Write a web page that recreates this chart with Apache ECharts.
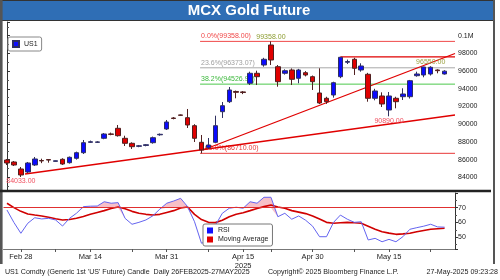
<!DOCTYPE html>
<html><head><meta charset="utf-8">
<script src="https://cdn.jsdelivr.net/npm/echarts@6/dist/echarts.min.js"></script>
<style>html,body{margin:0;padding:0;background:#fff}#c{width:500px;height:280px}</style>
</head><body><div id="c"></div><script>
const dates = ['Feb 26','Feb 27','Feb 28','Mar 3','Mar 4','Mar 5','Mar 6','Mar 7','Mar 10','Mar 11','Mar 12','Mar 13','Mar 14','Mar 17','Mar 18','Mar 19','Mar 20','Mar 21','Mar 24','Mar 25','Mar 26','Mar 27','Mar 28','Mar 31','Apr 1','Apr 2','Apr 3','Apr 4','Apr 7','Apr 8','Apr 9','Apr 10','Apr 11','Apr 14','Apr 15','Apr 16','Apr 17','Apr 21','Apr 22','Apr 23','Apr 24','Apr 25','Apr 28','Apr 29','Apr 30','May 1','May 2','May 5','May 6','May 7','May 8','May 9','May 12','May 13','May 14','May 15','May 16','May 19','May 20','May 21','May 22','May 23','May 26','May 27'];
const openP  = [85955,85729,84938,84599,85390,85900,86000,85800,86034,85650,86147,86780,87950,87950,88407,88900,89537,88407,87842,87500,87600,87910,88800,89458,90700,91050,90735,89831,87955,87345,87955,91413,92543,93700,93650,94622,95752,96690,98950,96498,95752,96125,95187,95820,95368,93526,92927,93300,95368,97000,97334,96125,95639,92927,93187,91605,92927,93108,93108,95481,95560,95673,96125,95673];
const closeP = [85616,85390,84260,85616,86068,85850,85950,85870,85503,86260,86780,87910,88020,88000,88893,88850,88701,87842,87458,87560,87680,88475,88860,90249,90650,91000,89910,88407,87085,87650,89831,92091,93865,93600,93580,95752,95368,97334,97255,94803,96046,95074,96125,95560,94803,92396,92543,94690,97560,97080,96317,96577,92927,93752,92283,93187,92543,93413,94916,95673,96464,96430,96050,95992];
const lowP   = [85390,85277,84033,84486,85277,85600,85650,85780,85400,85550,86000,86633,87880,87880,88300,88750,88600,87537,87200,87400,87500,87800,88700,89350,90550,90950,89571,87989,86710,87200,87850,90701,92400,92927,93400,94430,94430,96500,96690,94238,95600,94430,94622,95400,93865,92283,92300,93000,95200,96800,95560,95933,92543,92700,91944,90890,91797,92735,92900,95368,95300,95500,95752,95600];
const highP  = [86068,85842,85164,85729,86294,86100,86020,85900,86150,86350,86900,88215,88150,88080,89000,89050,89910,88700,87950,87650,87750,88600,88950,90475,90800,91100,91718,90000,88780,88441,90961,92509,94204,93800,93750,95933,96046,97500,99358,96690,96200,96300,96250,96000,95500,96317,93100,94800,97600,97300,97500,96882,95800,94000,93600,93640,93100,94057,95000,95933,96480,96550,96200,96100];
const rsi   = [68.4,60,52.7,59.5,63.2,62.4,62.8,61.7,57.6,62.8,66.2,70.7,71,71.1,74,73,73.4,62.8,58.8,60.1,61.7,64.5,69,73,74.5,76.3,70.7,60.5,46,47.5,58,66.2,69.6,70.3,69.6,74,73,77,77,63.9,66.2,62.2,64.4,61.5,57.5,50.4,50.4,60,65,62.2,60.1,60.5,48.2,49.3,47,48.6,47,50.4,55.4,56.5,57.5,58.8,57,56.8247];
const rsiMA = [73,70,67.5,65.7,65,64.4,63.5,62.5,61.7,62,62.8,64,65.5,66.8,68,69.5,70.5,69.2,67.5,66.2,65.5,65.1,65.5,66.8,68,69.8,70.5,65.5,62,60.1,59.9,61.5,63.9,65.5,66.6,68,69.5,70.7,71.8,70.5,69.6,68,67,66,64.4,62.3,60.1,59.5,59.8,60.1,59.8,59.5,57.5,55.5,53.8,52.8,52,52.3,52.7,53.8,54.6,55.4,55.8,56.1];
const fibLevels = [99358.00, 96373.07, 94526.93, 86710.00];
const fibNames = ['0.0%(99358.00)','23.6%(96373.07)','38.2%(94526.93)','100.0%(86710.00)'];
const fibStart = 27.8;
const trendUpper = [[28.2, 87085],[64.5, 97990]];
const trendLower = [[2.6, 84373],[64.5, 91040]];
const resistance = [[48, 97600],[64.5, 97600]];
const labelIdx = [2,12,23,34,44,55];
const tickIdx = [2,7,12,18,23,29,34,38,44,50,55,61];
const lastPrice = 95992.00;

const FONT = 'Liberation Sans';
const cats = dates.concat(['']);
const ohlc = openP.map((o,i)=>[o, closeP[i], lowP[i], highP[i]]);
const fibColors = ['#f04848','#a8a8a8','#4cc84c','#e83838'];
const fibLabelColors = ['#f04848','#a0a0a0','#3cb83c','#e83838'];

const fibSeries = fibLevels.map((v,i)=>({
  type:'line', xAxisIndex:1, yAxisIndex:0, silent:true, symbol:'circle', symbolSize:0,
  lineStyle:{color:fibColors[i], width:1}, itemStyle:{color:fibColors[i]},
  data:[{value:[fibStart, v], label:{show:true, position:'right', distance:1, offset:[0,-5], formatter:fibNames[i], color:fibLabelColors[i], fontSize:7, fontFamily:FONT}}, [64.5, v]],
  z:3
}));

function pointLabel(idx, val, txt, color, pos){
  return {coord:[idx, val], value:val, symbol:'circle', symbolSize:0,
    label:{show:true, position:pos, distance:1, formatter:txt, color:color, fontSize:7, fontFamily:FONT}};
}

const chart = echarts.init(document.getElementById('c'), null, {renderer:'canvas'});
chart.setOption({
  animation:false,
  backgroundColor:'#fff',
  grid:[
    {left:3.5, right:45, top:22, height:168.7},
    {left:3.5, right:45, top:193, height:56}
  ],
  xAxis:[
    {type:'category', gridIndex:0, data:cats, boundaryGap:true, axisLine:{show:false}, axisTick:{show:false}, axisLabel:{show:false}, splitLine:{show:false}},
    {type:'value', gridIndex:0, min:-0.5, max:64.5, show:false},
    {type:'category', gridIndex:1, data:cats, boundaryGap:true,
      axisLine:{show:true, lineStyle:{color:'#777', width:1}},
      axisTick:{show:true, alignWithLabel:true, length:3, lineStyle:{color:'#555'}, interval:(i)=>tickIdx.indexOf(i)>=0},
      axisLabel:{show:true, interval:(i)=>labelIdx.indexOf(i)>=0, margin:3, fontSize:7.5, fontFamily:FONT, color:'#222', lineHeight:9,
        formatter:(v,i)=> i===34 ? v+'\n2025' : v},
      splitLine:{show:false}}
  ],
  yAxis:[
    {type:'value', gridIndex:0, position:'right', min:82486, max:101548, splitNumber:9,
      axisLine:{show:true, lineStyle:{color:'#333'}}, axisTick:{show:true, length:3, lineStyle:{color:'#333'}},
      minorTick:{show:true, splitNumber:2, length:2, lineStyle:{color:'#555'}},
      axisLabel:{showMinLabel:false, showMaxLabel:false, margin:3, fontSize:7, fontFamily:FONT, color:'#222', formatter:(v)=> v===100000 ? '0.1M' : String(v)},
      splitLine:{show:false}},
    {type:'value', gridIndex:1, position:'right', min:42.1, max:79.9, splitNumber:5,
      axisLine:{show:true, lineStyle:{color:'#333'}}, axisTick:{show:true, length:3, lineStyle:{color:'#333'}},
      minorTick:{show:true, splitNumber:2, length:2, lineStyle:{color:'#555'}},
      axisLabel:{showMinLabel:false, showMaxLabel:false, margin:3, fontSize:7, fontFamily:FONT, color:'#222'},
      splitLine:{show:false}}
  ],
  legend:[
    {data:[{name:'US1', icon:'rect', itemStyle:{color:'#1010ff'}}], left:8, top:37, orient:'vertical', borderColor:'#888', borderWidth:1, borderRadius:2, padding:[3,4,3,4], itemWidth:6, itemHeight:6, itemGap:2, textStyle:{fontSize:7, fontFamily:FONT, color:'#222'}, selectedMode:false},
    {data:[{name:'RSI', icon:'rect', itemStyle:{color:'#1010ff'}},{name:'Moving Average', icon:'rect', itemStyle:{color:'#e00000'}}], left:203, top:224, orient:'vertical', backgroundColor:'#fff', borderColor:'#777', borderWidth:1, borderRadius:2, padding:[3,4,3,4], itemWidth:6, itemHeight:6, itemGap:2, textStyle:{fontSize:7, fontFamily:FONT, color:'#222'}, selectedMode:false, z:20}
  ],
  series:[
    ...fibSeries,
    {type:'line', xAxisIndex:1, yAxisIndex:0, silent:true, symbol:'none', data:trendUpper, lineStyle:{color:'#e00000', width:1.3}, z:4},
    {type:'line', xAxisIndex:1, yAxisIndex:0, silent:true, symbol:'none', data:trendLower, lineStyle:{color:'#e00000', width:1.3}, z:4},
    {type:'line', xAxisIndex:1, yAxisIndex:0, silent:true, symbol:'none', data:resistance, lineStyle:{color:'#e00000', width:1.3}, z:4},
    {name:'US1', type:'candlestick', xAxisIndex:0, yAxisIndex:0, data:ohlc, barWidth:5, z:5,
      itemStyle:{color:'#0a0aff', color0:'#e00000', borderColor:'#303060', borderColor0:'#502020', borderWidth:1},
      markPoint:{silent:true, symbol:'circle', symbolSize:0, itemStyle:{color:'transparent'}, data:[
        pointLabel(2, 84033, '84033.00', '#f05060', 'bottom'),
        pointLabel(55, 90890, '90890.00', '#f05060', 'bottom'),
        pointLabel(38, 99358, '99358.00', '#8c9c30', 'top'),
        pointLabel(61, 96550, '96550.00', '#9aa040', 'top')
      ]},
      markLine:{silent:true, symbol:'none', data:[{yAxis:lastPrice, lineStyle:{opacity:0},
        label:{show:true, position:'end', distance:2, formatter:lastPrice.toFixed(2), color:'#fff', backgroundColor:'#1818e0', padding:[2,2,1,2], fontSize:7.5, fontFamily:FONT}}]}
    },
    {type:'line', xAxisIndex:2, yAxisIndex:1, silent:true, symbol:'none', stack:'ob', data:rsi.map(v=>Math.min(v,70)), lineStyle:{opacity:0}, z:1},
    {type:'line', xAxisIndex:2, yAxisIndex:1, silent:true, symbol:'none', stack:'ob', data:rsi.map(v=>Math.max(v-70,0)), lineStyle:{opacity:0}, areaStyle:{color:'#f7c0c8', opacity:1}, z:1},
    {name:'Moving Average', type:'line', xAxisIndex:2, yAxisIndex:1, silent:true, symbol:'none', data:rsiMA, lineStyle:{color:'#d00000', width:1.6}, itemStyle:{color:'#e00000'}, z:3,
      markLine:{silent:true, symbol:'none', data:[{yAxis:rsiMA[rsiMA.length-1], lineStyle:{opacity:0},
        label:{show:true, position:'end', distance:2, formatter:'56.8247', color:'#fff', backgroundColor:'#e00000', padding:[2,2,1,2], fontSize:7.5, fontFamily:FONT}}]}},
    {name:'RSI', type:'line', xAxisIndex:2, yAxisIndex:1, silent:true, symbol:'none', data:rsi, lineStyle:{color:'#6464f0', width:1}, itemStyle:{color:'#1010ff'}, z:4,
      markLine:{silent:true, symbol:'none', data:[
        {yAxis:70, lineStyle:{color:'#e03030', width:1, type:'solid'}, label:{show:false}},
        {yAxis:rsi[rsi.length-1], lineStyle:{opacity:0}, label:{show:true, position:'end', distance:2, formatter:rsi[rsi.length-1].toFixed(4), color:'#fff', backgroundColor:'#1818e0', padding:[2,2,1,2], fontSize:7.5, fontFamily:FONT}}
      ]}}
  ],
  graphic:[
    {type:'rect', shape:{x:0.5, y:0.5, width:494, height:20}, style:{fill:'#2f6eb5', stroke:'#333', lineWidth:1}, z:100},
    {type:'text', x:249, y:11, style:{text:'MCX Gold Future', fill:'#fff', font:'bold 15px "Liberation Sans"', align:'center', verticalAlign:'middle'}, z:101},
    {type:'line', shape:{x1:1.3, y1:0, x2:1.3, y2:264}, style:{stroke:'#555', lineWidth:2.6}, z:100},
    {type:'line', shape:{x1:494, y1:0, x2:494, y2:264}, style:{stroke:'#555', lineWidth:2}, z:100},
    {type:'line', shape:{x1:0, y1:191, x2:491, y2:191}, style:{stroke:'#222', lineWidth:2.4}, z:100},
    {type:'text', x:5, y:272, style:{text:"US1 Comdty (Generic 1st 'US' Future) Candle  Daily 26FEB2025-27MAY2025", fill:'#222', font:'7.1px "Liberation Sans"', align:'left', verticalAlign:'middle'}, z:101},
    {type:'text', x:268, y:272, style:{text:'Copyright\u00a9 2025 Bloomberg Finance L.P.', fill:'#222', font:'7.1px "Liberation Sans"', align:'left', verticalAlign:'middle'}, z:101},
    {type:'text', x:498, y:272, style:{text:'27-May-2025 09:23:28', fill:'#222', font:'7.1px "Liberation Sans"', align:'right', verticalAlign:'middle'}, z:101}
  ]
});
</script></body></html>
